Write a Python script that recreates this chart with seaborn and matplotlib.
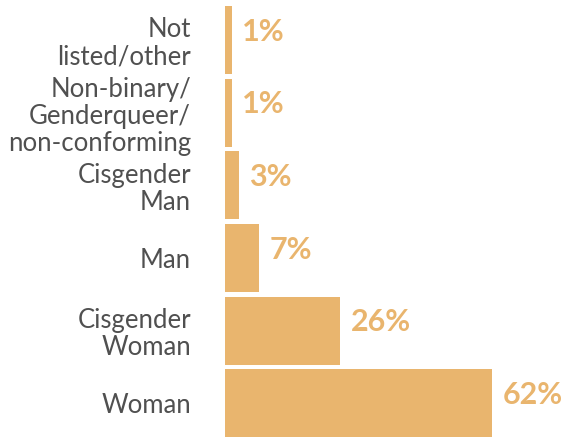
import matplotlib
matplotlib.use("Agg")
import matplotlib.pyplot as plt
import seaborn as sns
import pandas as pd

categories = ["Not\nlisted/other", "Non-binary/\nGenderqueer/\nnon-conforming",
              "Cisgender\nMan", "Man", "Cisgender\nWoman", "Woman"]
values = [1.6, 1.6, 3.25, 7.9, 26.7, 62.0]
value_labels = ["1%", "1%", "3%", "7%", "26%", "62%"]

BAR = "#E9B56E"
sns.set_theme(style="white")
plt.rcParams["font.family"] = ["Lato", "DejaVu Sans"]

df = pd.DataFrame({"category": categories, "value": values})

fig = plt.figure(figsize=(5.68, 4.38), dpi=100)
ax = fig.add_axes([225 / 568, 0, 1 - 225 / 568, 1])
sns.barplot(data=df, y="category", x="value", orient="h", color=BAR,
            saturation=1, width=0.935, linewidth=0, ax=ax)

ax.set_xlim(0, 343 / 4.306)
ax.set_ylim(5.475, -0.55)
ax.set_xlabel("")
ax.set_ylabel("")
ax.set_xticks([])
ax.tick_params(axis="y", length=0, pad=24.5)
for lab in ax.get_yticklabels():
    lab.set_fontsize(18.5)
    lab.set_color("#505050")
    lab.set_linespacing(1.1)
    lab.set_ha("right")
for s in ax.spines.values():
    s.set_visible(False)

for i, (v, t) in enumerate(zip(values, value_labels)):
    ax.annotate(t, xy=(v, i), xytext=(7.5, 6), textcoords="offset points",
                ha="left", va="center", fontsize=22, fontweight="bold",
                color=BAR)

fig.savefig("out.png", dpi=100, facecolor="white")
